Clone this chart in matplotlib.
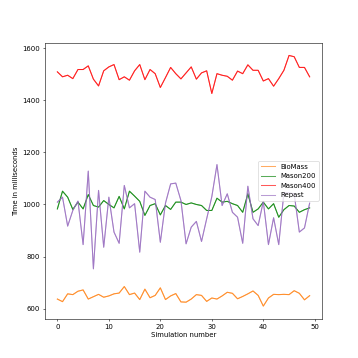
import matplotlib
matplotlib.use("Agg")
import matplotlib.pyplot as plt
import numpy as np

sim = list(range(50))

biomass = [637, 627, 657, 654, 667, 672, 637, 646, 655, 644,
           649, 657, 660, 685, 654, 660, 635, 675, 642, 651,
           680, 635, 649, 658, 626, 625, 637, 654, 651, 628,
           641, 637, 649, 663, 659, 638, 647, 657, 668, 651,
           610, 641, 655, 654, 655, 654, 669, 659, 634, 650]

mason200 = [983, 1051, 1028, 981, 1009, 983, 1038, 996, 990, 1015,
            1000, 987, 1031, 983, 1051, 1032, 1012, 958, 996, 1003,
            960, 996, 981, 1009, 1009, 1000, 1006, 1000, 996, 977,
            977, 1024, 1009, 1012, 1003, 996, 970, 1041, 970, 983,
            1009, 983, 1003, 951, 980, 996, 994, 970, 980, 987]

mason400 = [1509, 1490, 1496, 1483, 1518, 1518, 1532, 1481, 1455, 1513,
            1528, 1537, 1479, 1490, 1477, 1513, 1537, 1479, 1518, 1502,
            1449, 1487, 1526, 1502, 1482, 1505, 1528, 1481, 1505, 1513,
            1426, 1502, 1496, 1492, 1477, 1512, 1502, 1536, 1515, 1515,
            1474, 1483, 1454, 1483, 1515, 1572, 1567, 1526, 1526, 1490]

repast = [1009, 1028, 917, 977, 1013, 846, 1128, 753, 1054, 836,
          1028, 894, 851, 1073, 987, 1003, 817, 1051, 1028, 1019,
          855, 1005, 1079, 1082, 1015, 849, 913, 935, 858, 945,
          1030, 1153, 996, 1041, 970, 951, 851, 1070, 945, 919,
          1012, 846, 949, 846, 1045, 1045, 1040, 894, 910, 1005]

names = ["BioMass", "Mason200", "Mason400", "Repast"]
series = [biomass, mason200, mason400, repast]
colors = ["tab:orange", "green", "red", "tab:purple"]

fig, ax = plt.subplots(figsize=(7.2, 7.2), dpi=49.73)
for name, vals, c in zip(names, series, colors):
    ax.plot(sim, vals, color=c, alpha=0.65, label=name)
    ax.plot(sim, vals, color=c, alpha=0.65)

ax.set_xlabel("Simulation number")
ax.set_ylabel("Time in milliseconds")
ax.legend(loc="center right")
fig.savefig("out.png", dpi=49.73)
